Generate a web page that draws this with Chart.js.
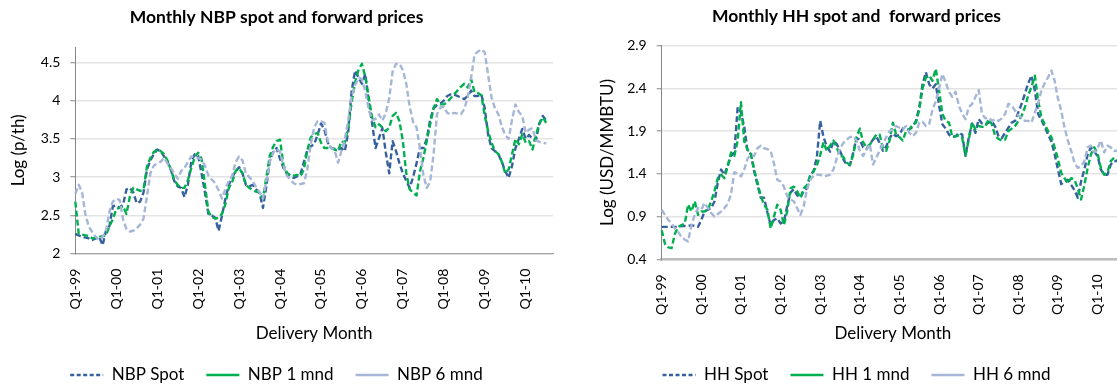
<!DOCTYPE html>
<html>
<head>
<meta charset="utf-8">
<script src="https://cdn.jsdelivr.net/npm/chart.js@4.4.1/dist/chart.umd.min.js"></script>
<style>
  html, body { margin: 0; padding: 0; background: #ffffff; overflow: hidden; width: 1117px; height: 387px; }
  canvas { position: absolute; top: 0; }
  #nbp { left: 0; }
  #hh { left: 589px; }
</style>
</head>
<body>
<canvas id="nbp" width="561" height="387"></canvas>
<canvas id="hh" width="542" height="387"></canvas>
<script>
// Monthly delivery months, Jan 1999 onwards (141 categories on the axis)
const years = ['99', '00', '01', '02', '03', '04', '05', '06', '07', '08', '09', '10'];
const monthNames = ['Jan', 'Feb', 'Mar', 'Apr', 'May', 'Jun', 'Jul', 'Aug', 'Sep', 'Oct', 'Nov', 'Dec'];
const months = [];
years.forEach(y => monthNames.forEach(m => months.push(m + '-' + y)));
months.length = 141;

// Axis tick labels (one per year, first quarter)
const quarterLabels = ['Q1-99', 'Q1-00', 'Q1-01', 'Q1-02', 'Q1-03', 'Q1-04', 'Q1-05', 'Q1-06', 'Q1-07', 'Q1-08', 'Q1-09', 'Q1-10'];
const nbpTicks = [2, 2.5, 3, 3.5, 4, 4.5];
const hhTicks = [0.4, 0.9, 1.4, 1.9, 2.4, 2.9];

// NBP, log(p/th)
const nbpSpot = [
  2.26, 2.24, 2.22, 2.21, 2.20, 2.18, 2.20, 2.22, 2.11, 2.30,
  2.36, 2.62, 2.63, 2.60, 2.64, 2.84, 2.86, 2.80, 2.66, 2.68,
  2.80, 3.10, 3.22, 3.30, 3.36, 3.34, 3.27, 3.20, 3.10, 2.95,
  2.88, 2.86, 2.74, 2.90, 3.20, 3.30, 3.28, 3.05, 2.80, 2.52,
  2.50, 2.47, 2.30, 2.50, 2.72, 2.90, 3.00, 3.08, 3.13, 3.05,
  2.90, 2.88, 2.90, 2.84, 2.79, 2.60, 2.88, 3.22, 3.33, 3.38,
  3.24, 3.12, 3.05, 3.02, 2.99, 3.01, 3.04, 3.20, 3.35, 3.40,
  3.43, 3.55, 3.70, 3.62, 3.45, 3.38, 3.37, 3.36, 3.38, 3.34,
  3.60, 4.13, 4.39, 4.30, 4.22, 4.35, 3.98, 3.70, 3.38, 3.51,
  3.64, 3.32, 3.05, 3.47, 3.34, 3.18, 3.05, 2.95, 2.86, 3.00,
  3.18, 3.38, 3.38, 3.50, 3.75, 3.90, 3.94, 3.96, 4.00, 4.06,
  4.08, 4.08, 4.06, 4.04, 4.02, 4.06, 4.13, 4.06, 4.06, 4.08,
  3.90, 3.55, 3.38, 3.34, 3.30, 3.20, 3.08, 2.99, 3.15, 3.38,
  3.50, 3.63, 3.50, 3.55, 3.50, 3.48, 3.70, 3.80, 3.74
];
const nbp1m = [
  2.68, 2.26, 2.25, 2.24, 2.23, 2.20, 2.21, 2.22, 2.23, 2.24,
  2.36, 2.45, 2.58, 2.60, 2.62, 2.52, 2.75, 2.86, 2.84, 2.82,
  2.84, 3.14, 3.25, 3.33, 3.36, 3.34, 3.30, 3.22, 3.10, 2.96,
  2.90, 2.86, 2.86, 2.96, 3.12, 3.26, 3.32, 3.24, 2.90, 2.55,
  2.48, 2.46, 2.47, 2.52, 2.65, 2.86, 2.94, 3.08, 3.12, 3.05,
  2.90, 2.86, 2.83, 2.81, 2.80, 2.72, 3.00, 3.28, 3.40, 3.47,
  3.49, 3.16, 3.06, 3.02, 3.02, 3.03, 3.01, 3.10, 3.35, 3.52,
  3.56, 3.58, 3.45, 3.38, 3.38, 3.38, 3.36, 3.34, 3.47, 3.45,
  3.65, 3.98, 4.24, 4.40, 4.48, 4.31, 4.04, 3.78, 3.65, 3.69,
  3.65, 3.60, 3.65, 3.80, 3.84, 3.73, 3.47, 3.05, 2.84, 2.80,
  2.76, 3.07, 3.25, 3.47, 3.69, 3.90, 4.02, 3.95, 3.95, 3.98,
  4.03, 4.08, 4.13, 4.18, 4.22, 4.17, 4.28, 4.11, 4.10, 4.07,
  3.80, 3.60, 3.45, 3.34, 3.30, 3.20, 3.05, 3.10, 3.30, 3.50,
  3.43, 3.56, 3.45, 3.47, 3.36, 3.55, 3.70, 3.78, 3.71
];
const nbp6m = [
  2.78, 2.90, 2.80, 2.50, 2.35, 2.28, 2.22, 2.18, 2.22, 2.30,
  2.55, 2.68, 2.72, 2.70, 2.45, 2.32, 2.29, 2.30, 2.33, 2.38,
  2.46, 2.75, 3.05, 3.15, 3.18, 3.20, 3.25, 3.18, 3.12, 3.05,
  2.98, 3.08, 3.12, 3.20, 3.27, 3.26, 3.25, 3.23, 3.15, 3.02,
  2.97, 2.92, 2.83, 2.72, 2.85, 2.95, 3.02, 3.20, 3.27, 3.22,
  3.05, 3.00, 2.95, 2.87, 2.80, 2.72, 2.95, 3.20, 3.32, 3.37,
  3.33, 3.15, 3.02, 2.97, 2.92, 2.90, 2.91, 2.92, 3.10, 3.43,
  3.65, 3.73, 3.73, 3.71, 3.47, 3.38, 3.35, 3.19, 3.34, 3.50,
  3.75, 4.05, 4.20, 4.30, 4.28, 4.12, 3.88, 3.74, 3.76, 3.82,
  3.74, 3.84, 4.03, 4.38, 4.48, 4.48, 4.40, 4.22, 3.92, 3.72,
  3.65, 3.38, 3.03, 2.86, 2.94, 3.30, 3.82, 3.91, 3.92, 3.84,
  3.82, 3.84, 3.83, 3.82, 3.89, 4.04, 4.30, 4.60, 4.64, 4.67,
  4.63, 4.33, 4.04, 3.90, 3.82, 3.66, 3.55, 3.50, 3.75, 3.95,
  3.85, 3.80, 3.58, 3.62, 3.64, 3.48, 3.46, 3.45, 3.44
];

// Henry Hub, log(USD/MMBTU)
const hhSpot = [
  0.78, 0.78, 0.78, 0.78, 0.78, 0.78, 0.79, 0.79, 0.79, 0.80,
  0.79, 0.78, 0.86, 0.96, 0.98, 1.00, 1.08, 1.30, 1.45, 1.39,
  1.50, 1.61, 1.65, 2.18, 2.12, 1.95, 1.67, 1.63, 1.43, 1.27,
  1.12, 1.12, 0.95, 0.80, 0.86, 0.88, 0.82, 0.84, 1.02, 1.18,
  1.22, 1.15, 1.12, 1.20, 1.23, 1.39, 1.43, 1.60, 2.02, 1.83,
  1.72, 1.66, 1.78, 1.75, 1.67, 1.57, 1.51, 1.50, 1.65, 1.82,
  1.80, 1.71, 1.69, 1.75, 1.80, 1.84, 1.76, 1.67, 1.72, 1.82,
  1.87, 1.84, 1.86, 1.93, 1.92, 1.92, 1.95, 2.02, 2.18, 2.45,
  2.59, 2.45, 2.40, 2.45, 2.20, 1.98, 1.93, 1.86, 1.83, 1.84,
  1.88, 1.86, 1.61, 1.83, 1.99, 1.88, 2.04, 1.99, 1.98, 2.00,
  2.02, 1.95, 1.84, 1.82, 1.88, 1.94, 2.00, 2.02, 2.12, 2.22,
  2.34, 2.46, 2.55, 2.38, 2.10, 2.03, 1.95, 1.86, 1.78, 1.63,
  1.45, 1.28, 1.31, 1.33, 1.27, 1.21, 1.12, 1.31, 1.45, 1.63,
  1.71, 1.66, 1.61, 1.45, 1.39, 1.39, 1.51, 1.55, 1.55
];
const hh1m = [
  0.74, 0.58, 0.54, 0.53, 0.70, 0.78, 0.80, 0.82, 1.04, 0.96,
  1.08, 0.92, 0.96, 0.96, 0.98, 1.08, 1.20, 1.35, 1.39, 1.35,
  1.49, 1.65, 1.61, 1.79, 2.24, 1.78, 1.68, 1.65, 1.45, 1.30,
  1.14, 1.04, 0.98, 0.76, 0.90, 1.04, 0.98, 0.80, 0.96, 1.23,
  1.25, 1.20, 1.12, 1.23, 1.27, 1.38, 1.43, 1.50, 1.62, 1.77,
  1.67, 1.73, 1.79, 1.71, 1.61, 1.60, 1.53, 1.51, 1.62, 1.83,
  1.93, 1.77, 1.71, 1.74, 1.80, 1.86, 1.86, 1.70, 1.67, 1.79,
  2.00, 1.86, 1.83, 1.79, 1.90, 1.92, 1.98, 2.00, 2.15, 2.40,
  2.53, 2.55, 2.49, 2.63, 2.38, 2.10, 2.02, 2.00, 1.83, 1.84,
  1.85, 1.82, 1.62, 1.80, 2.00, 1.92, 1.96, 1.95, 1.95, 2.04,
  1.98, 1.84, 1.81, 1.79, 1.80, 1.90, 1.93, 1.96, 2.02, 2.08,
  2.18, 2.32, 2.42, 2.55, 2.26, 2.06, 1.98, 1.90, 1.83, 1.71,
  1.57, 1.41, 1.35, 1.29, 1.35, 1.33, 1.23, 1.10, 1.27, 1.47,
  1.63, 1.71, 1.64, 1.47, 1.39, 1.42, 1.55, 1.59, 1.57
];
const hh6m = [
  0.98, 0.92, 0.86, 0.82, 0.76, 0.72, 0.66, 0.63, 0.61, 0.80,
  0.92, 1.00, 0.98, 1.06, 1.00, 0.94, 0.90, 0.93, 0.96, 1.00,
  1.05, 1.16, 1.42, 1.40, 1.37, 1.45, 1.58, 1.62, 1.61, 1.70,
  1.73, 1.70, 1.69, 1.67, 1.52, 1.33, 1.31, 1.25, 1.14, 1.10,
  1.08, 1.00, 0.92, 1.02, 1.22, 1.33, 1.38, 1.39, 1.39, 1.37,
  1.38, 1.39, 1.45, 1.58, 1.70, 1.76, 1.80, 1.83, 1.84, 1.79,
  1.67, 1.61, 1.68, 1.75, 1.51, 1.59, 1.67, 1.75, 1.83, 1.90,
  1.92, 1.96, 1.94, 1.92, 1.96, 1.88, 1.84, 1.88, 2.00, 2.01,
  1.96, 1.98, 2.15, 2.25, 2.40, 2.57, 2.47, 2.36, 2.30, 2.36,
  2.20, 2.10, 2.04, 2.18, 2.22, 2.30, 2.38, 2.10, 2.05, 2.06,
  2.02, 2.04, 2.02, 2.05, 2.10, 2.22, 2.20, 2.14, 2.08, 2.06,
  2.02, 2.02, 2.00, 2.12, 2.22, 2.38, 2.46, 2.53, 2.61, 2.49,
  2.28, 2.14, 1.94, 1.79, 1.67, 1.53, 1.47, 1.49, 1.55, 1.71,
  1.73, 1.65, 1.70, 1.79, 1.65, 1.73, 1.71, 1.67, 1.67
];

const COLOR_SPOT = '#36609e';
const COLOR_1M = '#00b050';
const COLOR_6M = '#a5b6d7';
const FONT = 'Lato, "Open Sans", "Liberation Sans", sans-serif';

Chart.defaults.font.family = FONT;
Chart.defaults.color = '#000000';

function lineDataset(label, data, color, order) {
  return {
    label, data,
    borderColor: color,
    backgroundColor: color,
    borderWidth: 2.4,
    borderDash: [6, 3],
    borderCapStyle: 'butt',
    borderJoinStyle: 'round',
    pointRadius: 0,
    pointHoverRadius: 0,
    fill: false,
    tension: 0,
    order
  };
}

function buildChart(canvasId, cfg) {
  const ctx = document.getElementById(canvasId);
  return new Chart(ctx, {
    type: 'line',
    data: {
      labels: months,
      datasets: [
        lineDataset(cfg.names[0], cfg.series[0], COLOR_SPOT, 3),
        lineDataset(cfg.names[1], cfg.series[1], COLOR_1M, 2),
        lineDataset(cfg.names[2], cfg.series[2], COLOR_6M, 1)
      ]
    },
    options: {
      responsive: false,
      animation: false,
      devicePixelRatio: 1,
      events: [],
      // the key sits low in the frame, so the bottom padding reaches past the edge
      layout: { padding: { left: cfg.padLeft, right: cfg.padRight, top: 0, bottom: -6.5 } },
      plugins: {
        tooltip: { enabled: false },
        title: {
          display: true,
          text: cfg.title,
          color: '#000000',
          font: { family: FONT, size: 17.5, weight: 'bold' },
          padding: { top: cfg.titleTop, bottom: cfg.titleBottom }
        },
        legend: {
          position: 'bottom',
          labels: {
            color: '#000000',
            font: { family: FONT, size: 17 },
            usePointStyle: true,
            pointStyleWidth: 33,
            padding: 22,
            generateLabels(chart) {
              // spot keeps its dash in the key, forwards are shown as solid lines
              return chart.data.datasets.map((ds, i) => ({
                text: ds.label,
                datasetIndex: i,
                pointStyle: 'line',
                strokeStyle: ds.borderColor,
                fillStyle: ds.borderColor,
                lineWidth: 2.6,
                lineDash: i === 0 ? [4, 2.5] : [],
                lineCap: 'butt',
                hidden: false
              }));
            }
          }
        }
      },
      scales: {
        x: {
          type: 'category',
          offset: false,
          grid: { display: false, drawTicks: false },
          border: { display: true, color: cfg.xBorderColor, width: cfg.xBorderWidth },
          ticks: {
            autoSkip: false,
            minRotation: 90,
            maxRotation: 90,
            padding: 15,
            color: '#000000',
            font: { family: FONT, size: 14 },
            callback: (value, index) => (index % 12 === 0 ? quarterLabels[index / 12] : null)
          },
          title: {
            display: true,
            text: 'Delivery Month',
            color: '#000000',
            font: { family: FONT, size: 17 },
            padding: { top: 0, bottom: 0.3 }
          },
          afterFit(scale) {
            scale.height = cfg.xHeight;
          }
        },
        y: {
          type: 'linear',
          min: cfg.yMin,
          max: cfg.yMax,
          afterBuildTicks(scale) {
            scale.ticks = cfg.ticks.map(v => ({ value: v }));
          },
          grid: {
            color: '#e4e4e4',
            lineWidth: 1.5,
            drawTicks: true,
            tickLength: 5,
            tickColor: '#878787',
            tickWidth: 1
          },
          border: { display: true, color: '#878787', width: 1 },
          ticks: {
            padding: 10,
            color: '#000000',
            font: { family: FONT, size: 14 },
            callback: v => String(v)
          },
          title: {
            display: true,
            text: cfg.yTitle,
            color: '#000000',
            font: { family: FONT, size: 17 },
            padding: { top: 8.8, bottom: 0 }
          },
          afterFit(scale) {
            scale.width = cfg.yWidth;
          }
        }
      }
    }
  });
}

buildChart('nbp', {
  title: 'Monthly NBP spot and forward prices',
  yTitle: 'Log (p/th)',
  names: ['NBP Spot', 'NBP 1 mnd', 'NBP 6 mnd'],
  series: [nbpSpot, nbp1m, nbp6m],
  ticks: nbpTicks,
  yMin: 2, yMax: 4.7,
  yWidth: 75.3,
  xHeight: 90.8,
  padLeft: 0,
  padRight: 8,
  titleTop: 6.5, titleBottom: 19.5,
  xBorderColor: '#a3a3a3', xBorderWidth: 1.2
});

buildChart('hh', {
  title: 'Monthly HH spot and  forward prices',
  yTitle: 'Log (USD/MMBTU)',
  names: ['HH Spot', 'HH 1 mnd', 'HH 6 mnd'],
  series: [hhSpot, hh1m, hh6m],
  ticks: hhTicks,
  yMin: 0.4, yMax: 2.9,
  yWidth: 72.7,
  xHeight: 85.2,
  padLeft: 0,
  padRight: 7,
  titleTop: 5.5, titleBottom: 19.2,
  xBorderColor: '#bdbdbd', xBorderWidth: 2.5
});
</script>
</body>
</html>
